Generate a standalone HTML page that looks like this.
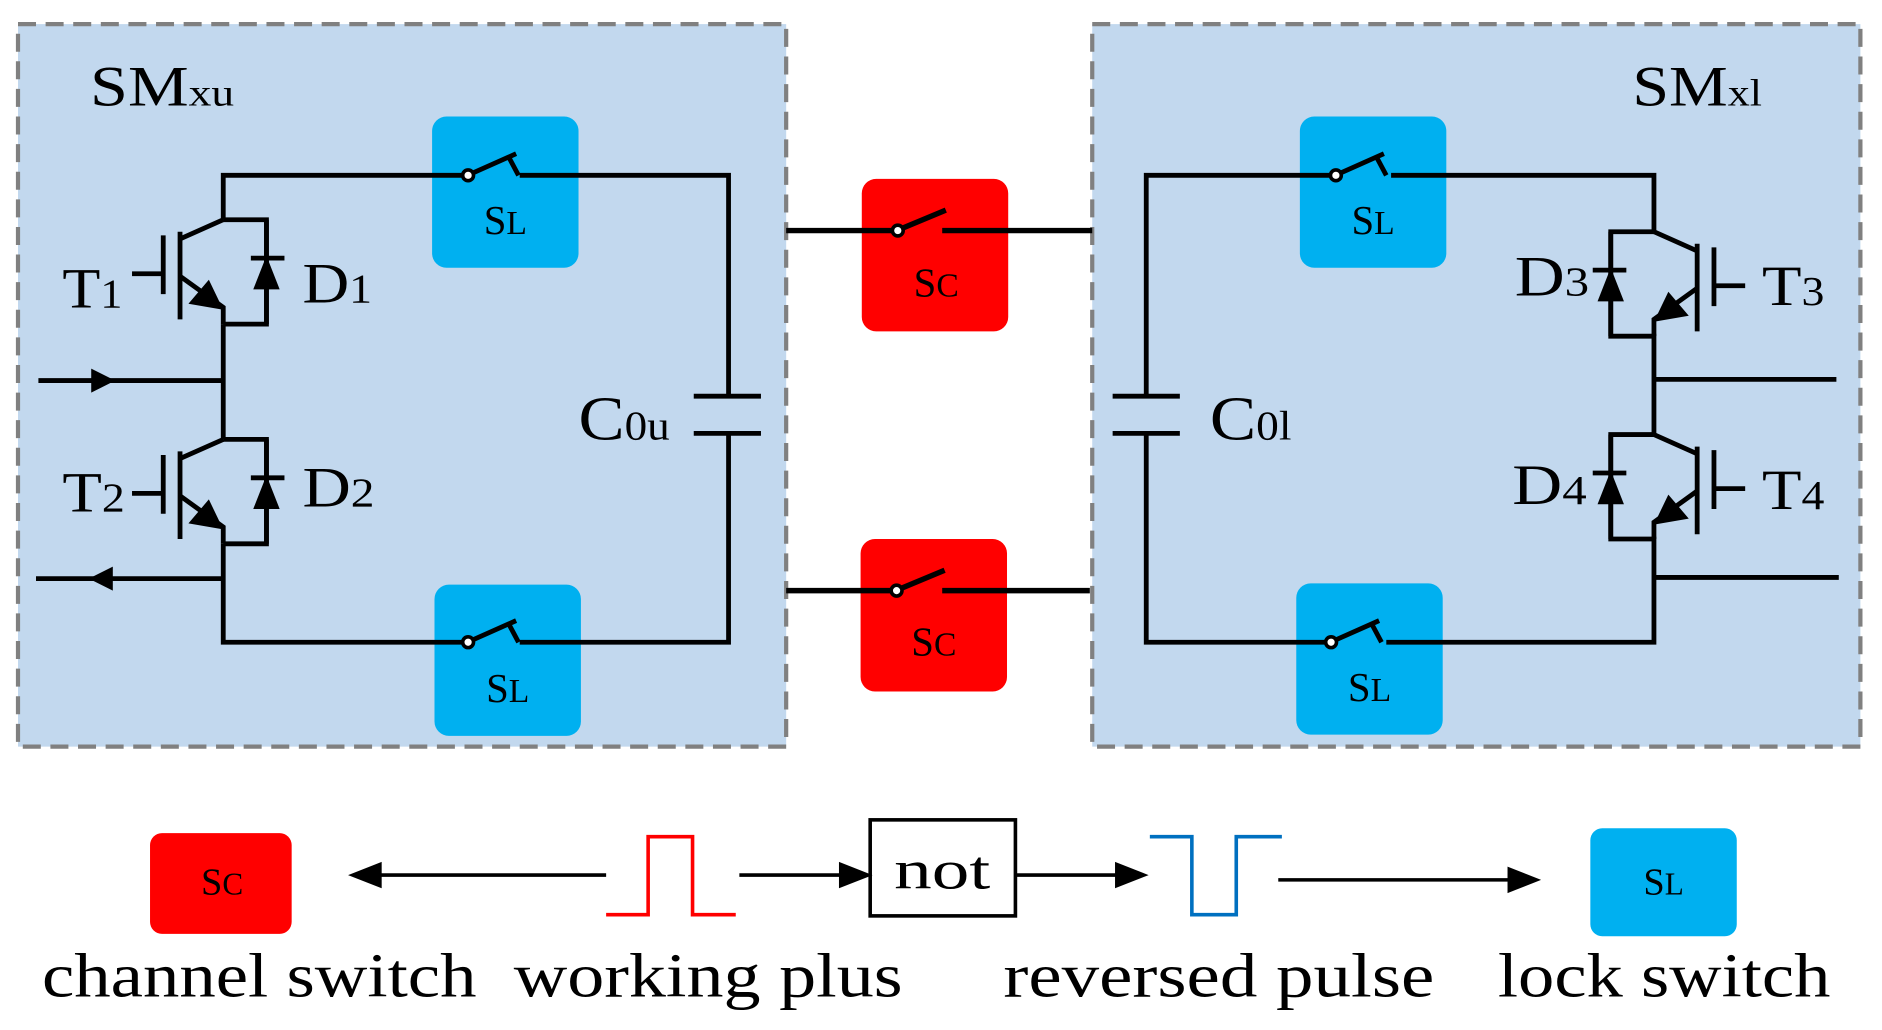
<!DOCTYPE html>
<html><head><meta charset="utf-8"><style>html,body{margin:0;padding:0;background:#fff}svg{display:block}text{font-family:"Liberation Serif",serif;fill:#000}</style></head><body>
<svg width="1882" height="1030" viewBox="0 0 1568 858" xmlns="http://www.w3.org/2000/svg">
<defs>
<g id="igbtL">
 <path d="M0 0 H36 V87 H0" fill="none" stroke="#000" stroke-width="4"/>
 <path d="M23 32 H51 M36 32 V87 M36 0 V32" fill="none" stroke="#000" stroke-width="4"/>
 <polygon points="36,30 25,58 47,58" fill="#000"/>
 <path d="M0 0 L-36 16 M-36 47 L0 73 V87" fill="none" stroke="#000" stroke-width="4"/>
 <polygon points="0,75 -12,50 -29,70" fill="#000"/>
 <path d="M-36 10 V83 M-50 13 V62 M-76 45 H-50" fill="none" stroke="#000" stroke-width="4"/>
</g>
</defs>
<rect x="15" y="20" width="640" height="602" fill="#C2D8EE" stroke="#808080" stroke-width="3.5" stroke-dasharray="15,8"/>
<rect x="910" y="20" width="640" height="602" fill="#C2D8EE" stroke="#808080" stroke-width="3.5" stroke-dasharray="15,8"/>
<rect x="360" y="97" width="122" height="126" rx="12" fill="#00B0F0"/>
<rect x="362" y="487" width="122" height="126" rx="12" fill="#00B0F0"/>
<rect x="1083" y="97" width="122" height="126" rx="12" fill="#00B0F0"/>
<rect x="1080" y="486" width="122" height="126" rx="12" fill="#00B0F0"/>
<rect x="718" y="149" width="122" height="127" rx="12" fill="#FF0000"/>
<rect x="717" y="449" width="122" height="127" rx="12" fill="#FF0000"/>
<g fill="none" stroke="#000" stroke-width="4">
 <path d="M186 183 V146 H386 M433 146 H607 V330 M578 330 H634 M578 361 H634 M607 361 V535 H433 M386 535 H186 V453"/>
 <path d="M186 270 V366 M32 317 H186 M30 482 H186"/>
 <path d="M394 144 L430 128 M424 131 L432 146 M394 533 L430 517 M424 520 L432 535"/>
 <path d="M1378 193 V146 H1159 M1110 146 H955 V330 M927 330 H983 M927 361 H983 M955 361 V535 H1106 M1155 535 H1378 V447"/>
 <path d="M1378 278 V362 M1378 316 H1530 M1378 481 H1532"/>
 <path d="M1117 144 L1153 128 M1147 131 L1155 146 M1113 533 L1149 517 M1143 520 L1151 535"/>
 <path d="M655 192 H744 M785 192 H910 M752 190 L788 175 M655 492 H743 M785 492 H908 M751 490 L787 475" stroke-width="4.5"/>
</g>
<g fill="#fff" stroke="#000" stroke-width="3">
 <circle cx="390" cy="146" r="4.5"/><circle cx="390" cy="535" r="4.5"/>
 <circle cx="1113" cy="146" r="4.5"/><circle cx="1109" cy="535" r="4.5"/>
 <circle cx="748" cy="192" r="4.5"/><circle cx="747" cy="492" r="4.5"/>
</g>
<polygon points="96,317 76,307 76,327" fill="#000"/>
<polygon points="74,482 94,472 94,492" fill="#000"/>
<use href="#igbtL" x="186" y="183"/>
<use href="#igbtL" x="186" y="366"/>
<use href="#igbtL" transform="translate(1378,193) scale(-1,1)"/>
<use href="#igbtL" transform="translate(1378,362) scale(-1,1)"/>
<text x="75" y="88" font-size="48" textLength="120" lengthAdjust="spacingAndGlyphs">SM<tspan font-size="32">xu</tspan></text>
<text x="1360" y="88" font-size="48" textLength="108" lengthAdjust="spacingAndGlyphs">SM<tspan font-size="32">xl</tspan></text>
<text x="52" y="256" font-size="48" textLength="50" lengthAdjust="spacingAndGlyphs">T<tspan font-size="34">1</tspan></text>
<text x="252" y="252" font-size="48" textLength="58" lengthAdjust="spacingAndGlyphs">D<tspan font-size="34">1</tspan></text>
<text x="52" y="426" font-size="48" textLength="52" lengthAdjust="spacingAndGlyphs">T<tspan font-size="34">2</tspan></text>
<text x="252" y="422" font-size="48" textLength="60" lengthAdjust="spacingAndGlyphs">D<tspan font-size="34">2</tspan></text>
<text x="482" y="366" font-size="52" textLength="76" lengthAdjust="spacingAndGlyphs">C<tspan font-size="34">0u</tspan></text>
<text x="1008" y="366" font-size="52" textLength="68" lengthAdjust="spacingAndGlyphs">C<tspan font-size="34">0l</tspan></text>
<text x="1262" y="246" font-size="48" textLength="62" lengthAdjust="spacingAndGlyphs">D<tspan font-size="34">3</tspan></text>
<text x="1468" y="254" font-size="48" textLength="52" lengthAdjust="spacingAndGlyphs">T<tspan font-size="34">3</tspan></text>
<text x="1260" y="420" font-size="48" textLength="62" lengthAdjust="spacingAndGlyphs">D<tspan font-size="34">4</tspan></text>
<text x="1468" y="424" font-size="48" textLength="52" lengthAdjust="spacingAndGlyphs">T<tspan font-size="34">4</tspan></text>
<g font-size="34" text-anchor="middle">
 <text x="421" y="195">S<tspan font-size="28">L</tspan></text>
 <text x="423" y="585">S<tspan font-size="28">L</tspan></text>
 <text x="1144" y="195">S<tspan font-size="28">L</tspan></text>
 <text x="1141" y="584">S<tspan font-size="28">L</tspan></text>
 <text x="780" y="247">S<tspan font-size="28">C</tspan></text>
 <text x="778" y="546">S<tspan font-size="28">C</tspan></text>
</g>
<rect x="125" y="694" width="118" height="84" rx="10" fill="#FF0000"/>
<rect x="1325" y="690" width="122" height="90" rx="10" fill="#00B0F0"/>
<g font-size="32" text-anchor="middle">
 <text x="185" y="745">S<tspan font-size="26">C</tspan></text>
 <text x="1386" y="745">S<tspan font-size="26">L</tspan></text>
</g>
<g fill="none" stroke="#000" stroke-width="3">
 <path d="M505 729 H310 M616 729 H705 M846 729 H935 M1065 733 H1262"/>
 <rect x="725" y="683" width="121" height="80"/>
</g>
<polygon points="290,729 318,718 318,740" fill="#000"/>
<polygon points="727,729 699,718 699,740" fill="#000"/>
<polygon points="957,729 929,718 929,740" fill="#000"/>
<polygon points="1284,733 1256,722 1256,744" fill="#000"/>
<path d="M505 762 H540 V697 H577 V762 H613" fill="none" stroke="#FF0000" stroke-width="3"/>
<path d="M958 697 H993 V762 H1030 V697 H1068" fill="none" stroke="#0070C0" stroke-width="3"/>
<text x="785" y="740" font-size="46" text-anchor="middle" textLength="80" lengthAdjust="spacingAndGlyphs">not</text>
<g font-size="52">
 <text x="35" y="830" textLength="362" lengthAdjust="spacingAndGlyphs">channel switch</text>
 <text x="428" y="830" textLength="324" lengthAdjust="spacingAndGlyphs">working plus</text>
 <text x="836" y="830" textLength="359" lengthAdjust="spacingAndGlyphs">reversed pulse</text>
 <text x="1248" y="830" textLength="277" lengthAdjust="spacingAndGlyphs">lock switch</text>
</g>
</svg>
</body></html>
